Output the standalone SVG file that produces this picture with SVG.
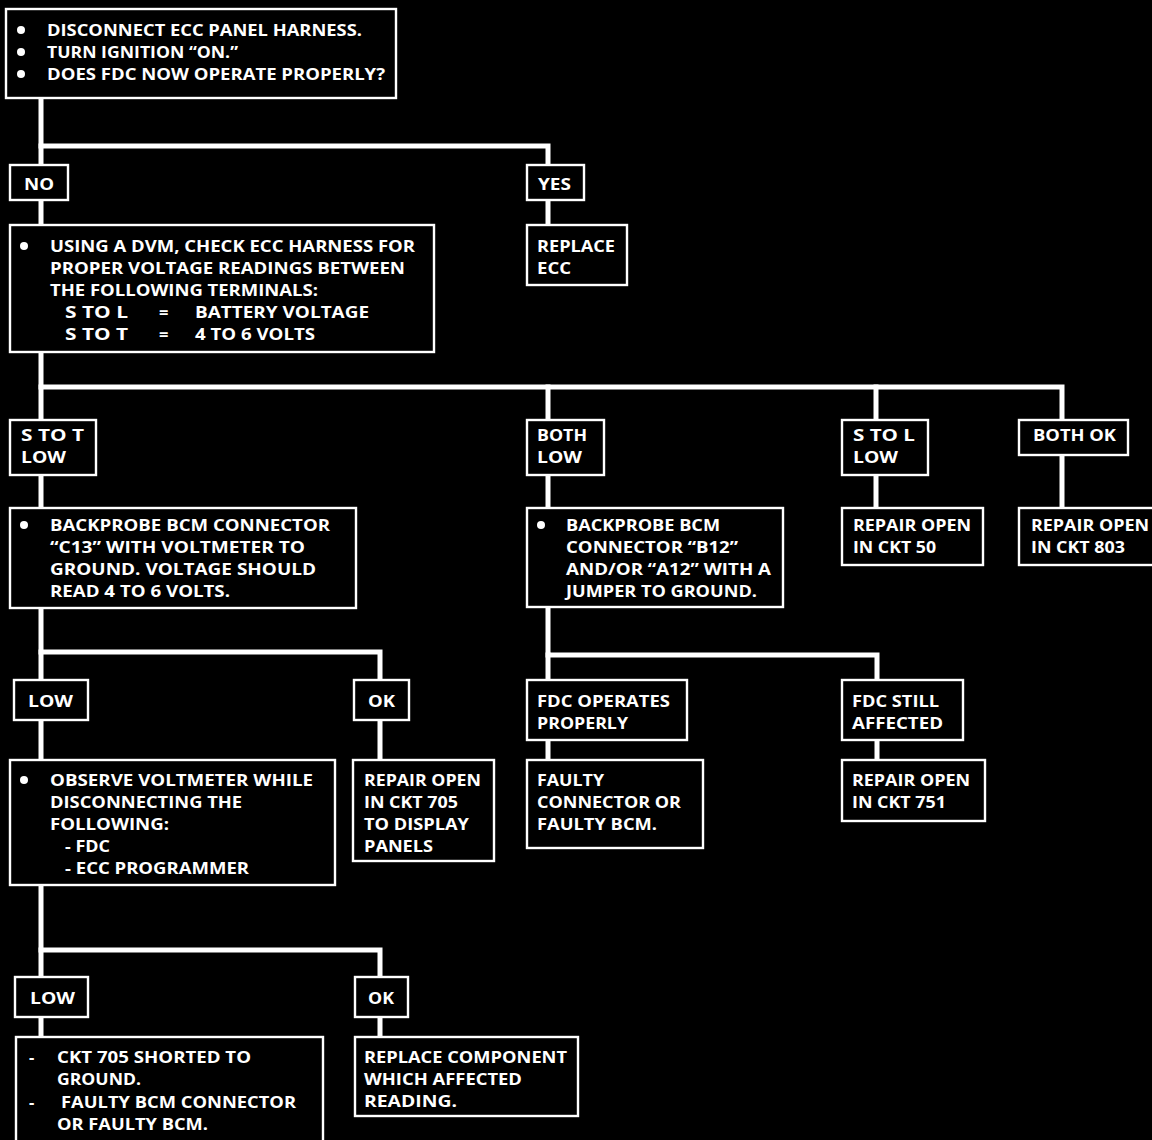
<svg xmlns="http://www.w3.org/2000/svg" width="1152" height="1140" viewBox="0 0 1152 1140">
<style>
.bg{fill:#000}
.box{fill:#000;stroke:#fff;stroke-width:2.4}
.c{fill:none;stroke:#fff;stroke-width:5;stroke-linecap:square}
.dot{fill:#fff}
text{fill:#fff;font-family:"Open Sans","Liberation Sans",sans-serif;font-weight:bold;font-size:16.5px}
</style>
<rect class="bg" x="0" y="0" width="1152" height="1140"/>
<g id="connectors">
<path class="c" d="M41,98 V1037"/>
<path class="c" d="M41,146 H548 V225"/>
<path class="c" d="M41,387 H1062 V508"/>
<path class="c" d="M548,387 V508"/>
<path class="c" d="M876,387 V508"/>
<path class="c" d="M41,652 H380 V760"/>
<path class="c" d="M548,607 V655 H877 V760"/>
<path class="c" d="M548,655 V760"/>
<path class="c" d="M41,950 H380 V1037"/>
</g>
<g id="n1">
<rect class="box" x="6" y="9" width="390" height="89"/>
<circle class="dot" cx="21" cy="30" r="4"/><text x="47" y="36" textLength="315" lengthAdjust="spacingAndGlyphs">DISCONNECT ECC PANEL HARNESS.</text>
<circle class="dot" cx="21" cy="52" r="4"/><text x="47" y="58" textLength="191" lengthAdjust="spacingAndGlyphs">TURN IGNITION “ON.”</text>
<circle class="dot" cx="21" cy="74" r="4"/><text x="47" y="80" textLength="338" lengthAdjust="spacingAndGlyphs">DOES FDC NOW OPERATE PROPERLY?</text>
</g>
<g id="no1">
<rect class="box" x="10" y="165" width="58" height="35"/>
<text x="24" y="190" textLength="30" lengthAdjust="spacingAndGlyphs">NO</text>
</g>
<g id="yes1">
<rect class="box" x="527" y="165" width="57" height="35"/>
<text x="538" y="190" textLength="33" lengthAdjust="spacingAndGlyphs">YES</text>
</g>
<g id="replaceEcc">
<rect class="box" x="527" y="225" width="100" height="60"/>
<text x="537" y="252" textLength="78" lengthAdjust="spacingAndGlyphs">REPLACE</text>
<text x="537" y="274" textLength="34" lengthAdjust="spacingAndGlyphs">ECC</text>
</g>
<g id="n2">
<rect class="box" x="10" y="225" width="424" height="127"/>
<circle class="dot" cx="24" cy="246" r="4"/>
<text x="50" y="252" textLength="365" lengthAdjust="spacingAndGlyphs">USING A DVM, CHECK ECC HARNESS FOR</text>
<text x="50" y="274" textLength="355" lengthAdjust="spacingAndGlyphs">PROPER VOLTAGE READINGS BETWEEN</text>
<text x="50" y="296" textLength="268" lengthAdjust="spacingAndGlyphs">THE FOLLOWING TERMINALS:</text>
<text x="65" y="318" textLength="63" lengthAdjust="spacingAndGlyphs">S  TO  L</text>
<text x="159" y="318">=</text>
<text x="195" y="318" textLength="174" lengthAdjust="spacingAndGlyphs">BATTERY VOLTAGE</text>
<text x="65" y="340" textLength="63" lengthAdjust="spacingAndGlyphs">S  TO  T</text>
<text x="159" y="340">=</text>
<text x="195" y="340" textLength="120" lengthAdjust="spacingAndGlyphs">4 TO 6 VOLTS</text>
</g>
<g id="stoTlow">
<rect class="box" x="10" y="420" width="86" height="55"/>
<text x="21" y="441" textLength="63" lengthAdjust="spacingAndGlyphs">S  TO  T</text>
<text x="21" y="463" textLength="45" lengthAdjust="spacingAndGlyphs">LOW</text>
</g>
<g id="bothLow">
<rect class="box" x="527" y="420" width="77" height="55"/>
<text x="537" y="441" textLength="50" lengthAdjust="spacingAndGlyphs">BOTH</text>
<text x="537" y="463" textLength="45" lengthAdjust="spacingAndGlyphs">LOW</text>
</g>
<g id="stoLlow">
<rect class="box" x="842" y="420" width="86" height="55"/>
<text x="853" y="441" textLength="62" lengthAdjust="spacingAndGlyphs">S  TO  L</text>
<text x="853" y="463" textLength="45" lengthAdjust="spacingAndGlyphs">LOW</text>
</g>
<g id="bothOk">
<rect class="box" x="1019" y="420" width="109" height="35"/>
<text x="1033" y="441" textLength="83" lengthAdjust="spacingAndGlyphs">BOTH OK</text>
</g>
<g id="n3">
<rect class="box" x="10" y="508" width="346" height="100"/>
<circle class="dot" cx="24" cy="525" r="4"/>
<text x="50" y="531" textLength="280" lengthAdjust="spacingAndGlyphs">BACKPROBE  BCM CONNECTOR</text>
<text x="50" y="553" textLength="255" lengthAdjust="spacingAndGlyphs">“C13” WITH VOLTMETER TO</text>
<text x="50" y="575" textLength="266" lengthAdjust="spacingAndGlyphs">GROUND.  VOLTAGE SHOULD</text>
<text x="50" y="597" textLength="180" lengthAdjust="spacingAndGlyphs">READ 4 TO 6 VOLTS.</text>
</g>
<g id="n4">
<rect class="box" x="527" y="508" width="256" height="99"/>
<circle class="dot" cx="541" cy="525" r="4"/>
<text x="566" y="531" textLength="154" lengthAdjust="spacingAndGlyphs">BACKPROBE BCM</text>
<text x="566" y="553" textLength="172" lengthAdjust="spacingAndGlyphs">CONNECTOR “B12”</text>
<text x="566" y="575" textLength="205" lengthAdjust="spacingAndGlyphs">AND/OR “A12” WITH A</text>
<text x="566" y="597" textLength="191" lengthAdjust="spacingAndGlyphs">JUMPER  TO GROUND.</text>
</g>
<g id="ckt50">
<rect class="box" x="842" y="508" width="141" height="57"/>
<text x="853" y="531" textLength="118" lengthAdjust="spacingAndGlyphs">REPAIR OPEN</text>
<text x="853" y="553" textLength="83" lengthAdjust="spacingAndGlyphs">IN CKT 50</text>
</g>
<g id="ckt803">
<rect class="box" x="1019" y="508" width="150" height="57"/>
<text x="1031" y="531" textLength="118" lengthAdjust="spacingAndGlyphs">REPAIR OPEN</text>
<text x="1031" y="553" textLength="94" lengthAdjust="spacingAndGlyphs">IN CKT 803</text>
</g>
<g id="low1">
<rect class="box" x="14" y="680" width="74" height="40"/>
<text x="28" y="707" textLength="45" lengthAdjust="spacingAndGlyphs">LOW</text>
</g>
<g id="ok1">
<rect class="box" x="354" y="680" width="55" height="40"/>
<text x="368" y="707" textLength="27" lengthAdjust="spacingAndGlyphs">OK</text>
</g>
<g id="fdcOperates">
<rect class="box" x="527" y="680" width="160" height="60"/>
<text x="537" y="707" textLength="133" lengthAdjust="spacingAndGlyphs">FDC OPERATES</text>
<text x="537" y="729" textLength="91" lengthAdjust="spacingAndGlyphs">PROPERLY</text>
</g>
<g id="fdcStill">
<rect class="box" x="842" y="680" width="121" height="60"/>
<text x="852" y="707" textLength="87" lengthAdjust="spacingAndGlyphs">FDC STILL</text>
<text x="852" y="729" textLength="91" lengthAdjust="spacingAndGlyphs">AFFECTED</text>
</g>
<g id="n5">
<rect class="box" x="10" y="760" width="325" height="125"/>
<circle class="dot" cx="24" cy="780" r="4"/>
<text x="50" y="786" textLength="263" lengthAdjust="spacingAndGlyphs">OBSERVE VOLTMETER WHILE</text>
<text x="50" y="808" textLength="192" lengthAdjust="spacingAndGlyphs">DISCONNECTING THE</text>
<text x="50" y="830" textLength="119" lengthAdjust="spacingAndGlyphs">FOLLOWING:</text>
<text x="65" y="852" textLength="45" lengthAdjust="spacingAndGlyphs">- FDC</text>
<text x="65" y="874" textLength="184" lengthAdjust="spacingAndGlyphs">- ECC PROGRAMMER</text>
</g>
<g id="ckt705">
<rect class="box" x="353" y="760" width="141" height="101"/>
<text x="364" y="786" textLength="117" lengthAdjust="spacingAndGlyphs">REPAIR OPEN</text>
<text x="364" y="808" textLength="94" lengthAdjust="spacingAndGlyphs">IN CKT 705</text>
<text x="364" y="830" textLength="105" lengthAdjust="spacingAndGlyphs">TO DISPLAY</text>
<text x="364" y="852" textLength="69" lengthAdjust="spacingAndGlyphs">PANELS</text>
</g>
<g id="faultyConn">
<rect class="box" x="527" y="760" width="176" height="88"/>
<text x="537" y="786" textLength="67" lengthAdjust="spacingAndGlyphs">FAULTY</text>
<text x="537" y="808" textLength="144" lengthAdjust="spacingAndGlyphs">CONNECTOR OR</text>
<text x="537" y="830" textLength="120" lengthAdjust="spacingAndGlyphs">FAULTY BCM.</text>
</g>
<g id="ckt751">
<rect class="box" x="842" y="760" width="143" height="61"/>
<text x="852" y="786" textLength="118" lengthAdjust="spacingAndGlyphs">REPAIR OPEN</text>
<text x="852" y="808" textLength="94" lengthAdjust="spacingAndGlyphs">IN CKT 751</text>
</g>
<g id="low2">
<rect class="box" x="15" y="977" width="73" height="40"/>
<text x="30" y="1004" textLength="45" lengthAdjust="spacingAndGlyphs">LOW</text>
</g>
<g id="ok2">
<rect class="box" x="355" y="977" width="53" height="40"/>
<text x="368" y="1004" textLength="26" lengthAdjust="spacingAndGlyphs">OK</text>
</g>
<g id="shorted">
<rect class="box" x="16" y="1037" width="307" height="115"/>
<text x="29" y="1063">-</text>
<text x="57" y="1063" textLength="194" lengthAdjust="spacingAndGlyphs">CKT 705 SHORTED TO</text>
<text x="57" y="1085" textLength="84" lengthAdjust="spacingAndGlyphs">GROUND.</text>
<text x="29" y="1108">-</text>
<text x="61" y="1108" textLength="235" lengthAdjust="spacingAndGlyphs">FAULTY BCM CONNECTOR</text>
<text x="57" y="1130" textLength="151" lengthAdjust="spacingAndGlyphs">OR FAULTY BCM.</text>
</g>
<g id="replaceComp">
<rect class="box" x="355" y="1037" width="223" height="79"/>
<text x="364" y="1063" textLength="203" lengthAdjust="spacingAndGlyphs">REPLACE COMPONENT</text>
<text x="364" y="1085" textLength="158" lengthAdjust="spacingAndGlyphs">WHICH AFFECTED</text>
<text x="364" y="1107" textLength="93" lengthAdjust="spacingAndGlyphs">READING.</text>
</g>
</svg>
